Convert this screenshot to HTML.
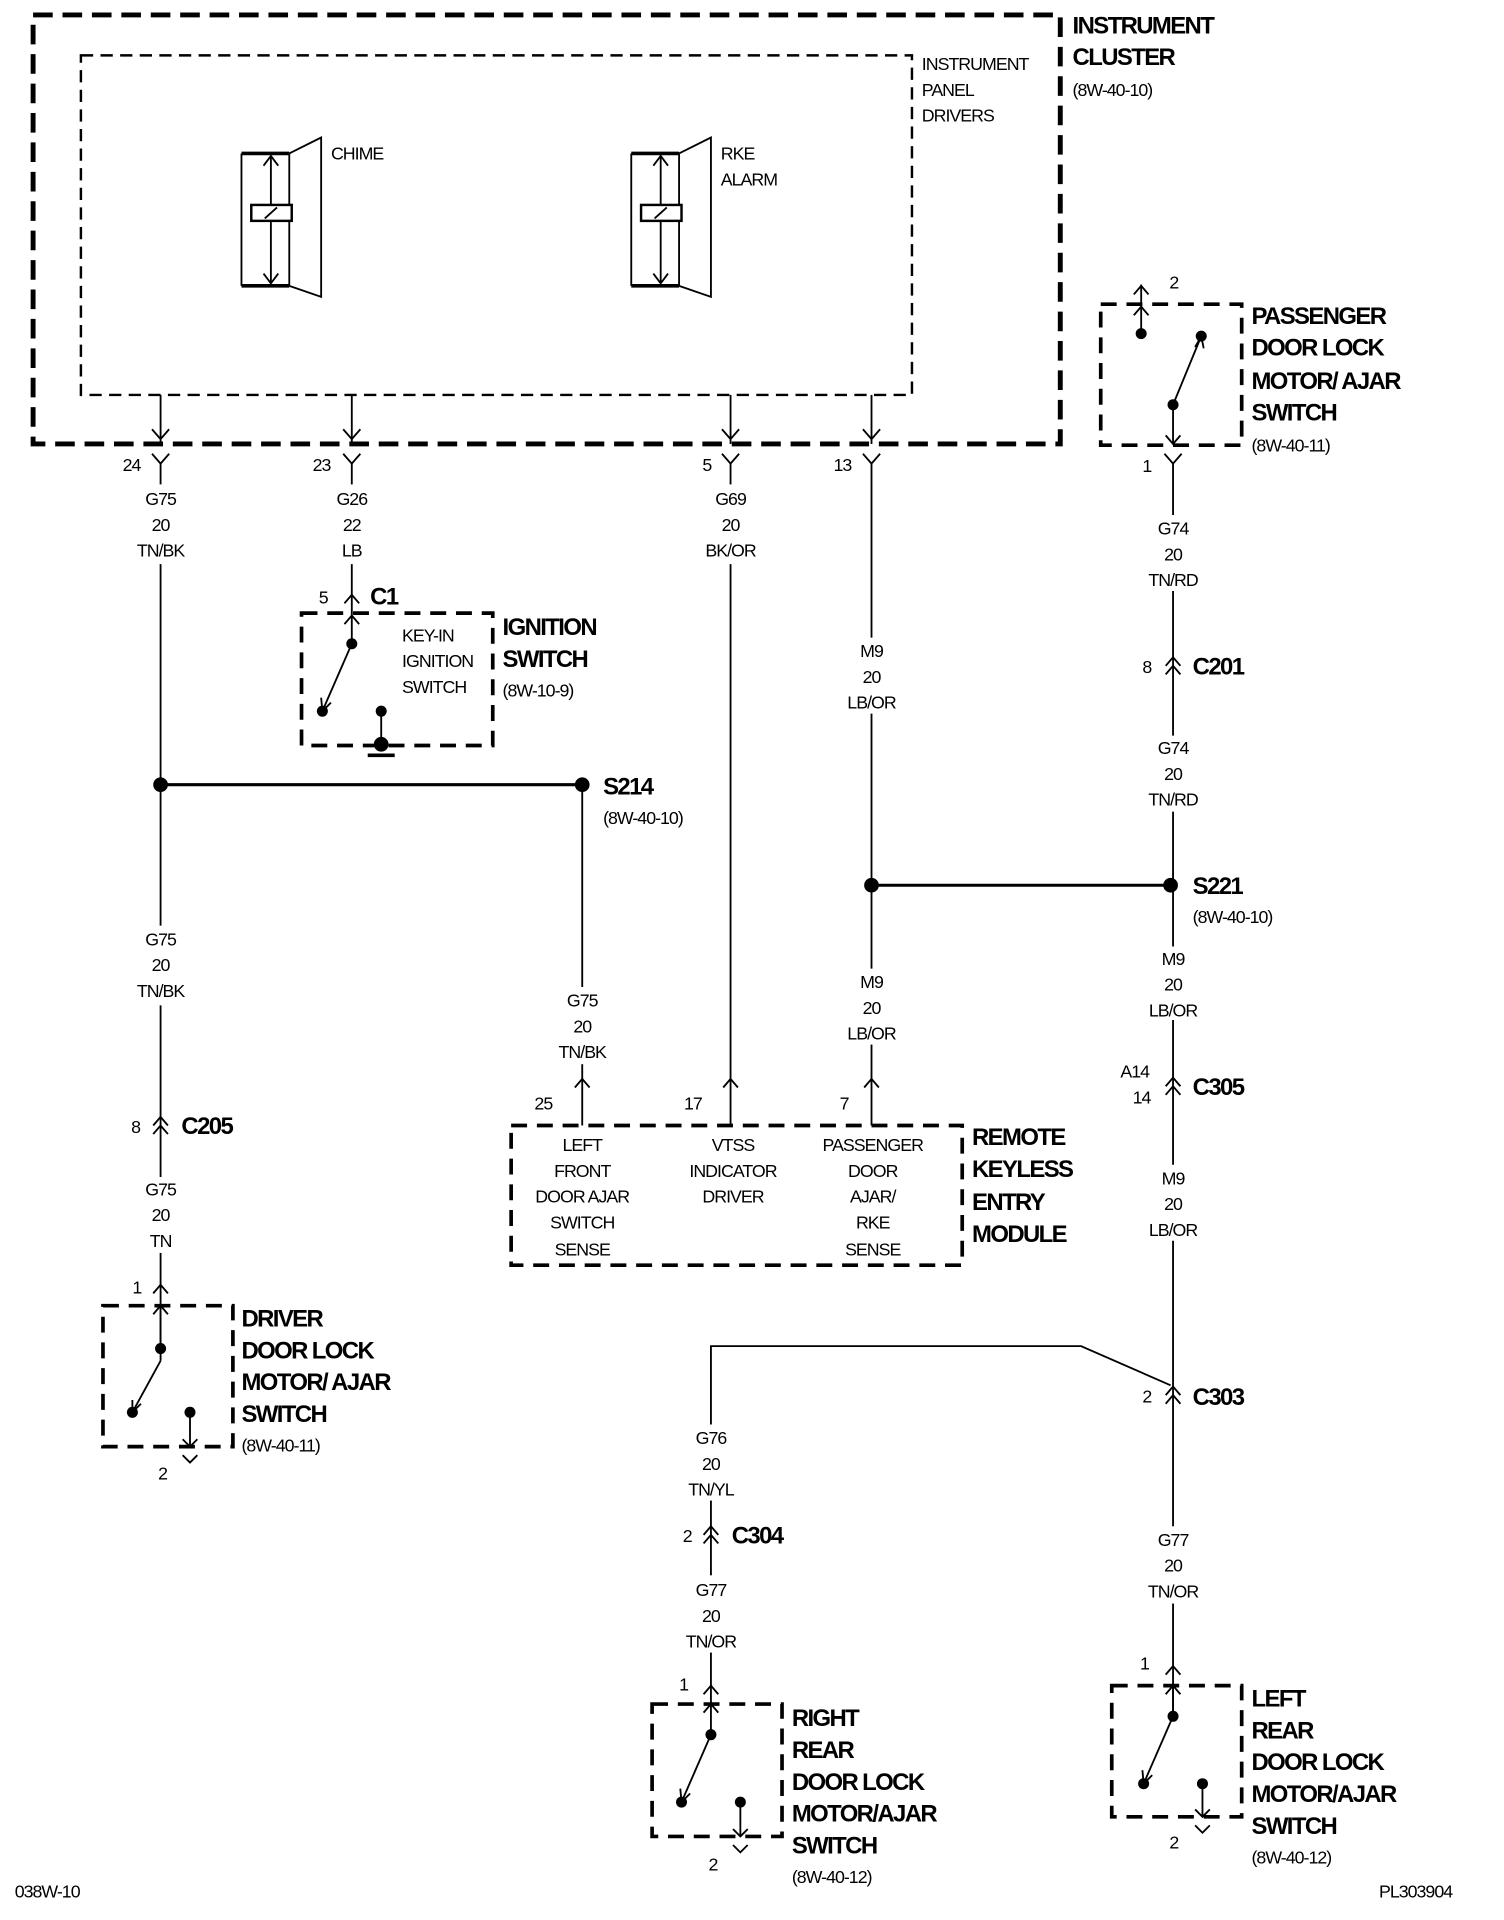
<!DOCTYPE html>
<html><head><meta charset="utf-8"><style>
html,body{margin:0;padding:0;background:#fff;width:1504px;height:1920px;overflow:hidden}
svg{display:block}
text{font-family:"Liberation Sans",sans-serif;fill:#000}
.s{font-size:14.5px;letter-spacing:-0.8px}
.b{font-size:19.5px;font-weight:bold;letter-spacing:-1.3px}
.c{text-anchor:middle}
</style></head><body>
<svg width="1504" height="1920" viewBox="0 0 1227 1566" xmlns="http://www.w3.org/2000/svg">
<g fill="none" stroke="#000">
<rect x="27" y="12" width="838" height="350" stroke-width="4" stroke-dasharray="16,8"/>
<rect x="66" y="45" width="678" height="277" stroke-width="2" stroke-dasharray="10,6"/>
<g stroke-width="1.5">
<line x1="197" y1="125" x2="236" y2="125" stroke-width="3"/>
<line x1="197" y1="233" x2="236" y2="233" stroke-width="3"/>
<line x1="197" y1="125" x2="197" y2="233"/><line x1="236" y1="125" x2="236" y2="233"/>
<polyline points="236,125 262,112 262,242 236,233"/>
<line x1="221" y1="127" x2="221" y2="231"/>
<polyline points="215,135 221,127 227,135"/><polyline points="215,223 221,231 227,223"/>
<rect x="205" y="167" width="33" height="13" fill="#fff" stroke-width="2"/>
<line x1="216" y1="178" x2="226" y2="169"/>
</g>
<g stroke-width="1.5" transform="translate(318,0)">
<line x1="197" y1="125" x2="236" y2="125" stroke-width="3"/>
<line x1="197" y1="233" x2="236" y2="233" stroke-width="3"/>
<line x1="197" y1="125" x2="197" y2="233"/><line x1="236" y1="125" x2="236" y2="233"/>
<polyline points="236,125 262,112 262,242 236,233"/>
<line x1="221" y1="127" x2="221" y2="231"/>
<polyline points="215,135 221,127 227,135"/><polyline points="215,223 221,231 227,223"/>
<rect x="205" y="167" width="33" height="13" fill="#fff" stroke-width="2"/>
<line x1="216" y1="178" x2="226" y2="169"/>
</g>
<g stroke-width="1.5">
<line x1="131" y1="322" x2="131" y2="362"/><polyline points="124,350 131,358 138,350"/>
<line x1="287" y1="322" x2="287" y2="362"/><polyline points="280,350 287,358 294,350"/>
<line x1="596" y1="322" x2="596" y2="362"/><polyline points="589,350 596,358 603,350"/>
<line x1="711" y1="322" x2="711" y2="362"/><polyline points="704,350 711,358 718,350"/>
<polyline points="124,370 131,378 138,370"/><polyline points="280,370 287,378 294,370"/>
<polyline points="589,370 596,378 603,370"/><polyline points="704,370 711,378 718,370"/>
<line x1="131" y1="378" x2="131" y2="395"/>
<line x1="131" y1="460" x2="131" y2="755"/>
<line x1="131" y1="820" x2="131" y2="960"/>
<polyline points="125,918 131,911 137,918"/><polyline points="125,925 131,918 137,925"/>
<line x1="131" y1="1022" x2="131" y2="1110"/>
<polyline points="125,1055 131,1048 137,1055"/>
<polyline points="125,1072 131,1065 137,1072"/>
<line x1="131" y1="1110" x2="108" y2="1152"/>
<polyline points="108,1142 108,1152 115,1145"/>
<line x1="155" y1="1152" x2="155" y2="1180"/>
<polyline points="149,1174 155,1180 161,1174"/>
<polyline points="149,1187 155,1193 161,1187"/>
<line x1="287" y1="378" x2="287" y2="395"/>
<line x1="287" y1="460" x2="287" y2="525"/>
<polyline points="281,492 287,485 293,492"/>
<polyline points="281,509 287,502 293,509"/>
<line x1="287" y1="525" x2="263" y2="580"/>
<polyline points="262,569 263,580 270,573"/>
<line x1="311" y1="580" x2="311" y2="607"/>
<line x1="300" y1="616" x2="322" y2="616" stroke-width="3"/>
<line x1="131" y1="640" x2="475" y2="640" stroke-width="2.5"/>
<line x1="475" y1="640" x2="475" y2="805"/>
<line x1="475" y1="868" x2="475" y2="918"/>
<polyline points="469,887 475,880 481,887"/>
<line x1="596" y1="378" x2="596" y2="395"/>
<line x1="596" y1="460" x2="596" y2="918"/>
<polyline points="590,887 596,880 602,887"/>
<line x1="711" y1="378" x2="711" y2="520"/>
<line x1="711" y1="582" x2="711" y2="790"/>
<line x1="711" y1="722" x2="955" y2="722" stroke-width="2.5"/>
<line x1="711" y1="852" x2="711" y2="918"/>
<polyline points="705,887 711,880 717,887"/>
<line x1="931" y1="232" x2="931" y2="272"/>
<polyline points="925,240 931,233 937,240"/>
<polyline points="925,257 931,250 937,257"/>
<line x1="957" y1="330" x2="980" y2="274"/>
<polyline points="975,283 980,274 982,284"/>
<line x1="957" y1="330" x2="957" y2="362"/>
<polyline points="951,355 957,362 963,355"/>
<polyline points="950,370 957,378 964,370"/>
<line x1="957" y1="378" x2="957" y2="420"/>
<line x1="957" y1="482" x2="957" y2="600"/>
<polyline points="951,543 957,536 963,543"/><polyline points="951,550 957,543 963,550"/>
<line x1="957" y1="662" x2="957" y2="772"/>
<line x1="957" y1="832" x2="957" y2="950"/>
<polyline points="951,886 957,879 963,886"/><polyline points="951,893 957,886 963,893"/>
<line x1="957" y1="1012" x2="957" y2="1245"/>
<polyline points="951,1138 957,1131 963,1138"/><polyline points="951,1145 957,1138 963,1145"/>
<polyline points="955,1130 882,1098 580,1098 580,1162"/>
<line x1="580" y1="1224" x2="580" y2="1285"/>
<polyline points="574,1252 580,1245 586,1252"/><polyline points="574,1259 580,1252 586,1259"/>
<line x1="580" y1="1348" x2="580" y2="1415"/>
<polyline points="574,1382 580,1375 586,1382"/>
<polyline points="574,1397 580,1390 586,1397"/>
<line x1="580" y1="1415" x2="556" y2="1470"/>
<polyline points="555,1459 556,1470 563,1463"/>
<line x1="604" y1="1470" x2="604" y2="1498"/>
<polyline points="598,1492 604,1498 610,1492"/>
<polyline points="598,1505 604,1511 610,1505"/>
<line x1="957" y1="1308" x2="957" y2="1400"/>
<polyline points="951,1366 957,1359 963,1366"/>
<polyline points="951,1382 957,1375 963,1382"/>
<line x1="957" y1="1400" x2="933" y2="1455"/>
<polyline points="932,1444 933,1455 940,1448"/>
<line x1="981" y1="1455" x2="981" y2="1482"/>
<polyline points="975,1476 981,1482 987,1476"/>
<polyline points="975,1489 981,1495 987,1489"/>
</g>
<g stroke-width="3" stroke-dasharray="13,8">
<rect x="898" y="248" width="115" height="115"/>
<rect x="246" y="500" width="156" height="108"/>
<rect x="417" y="918" width="368" height="114"/>
<rect x="84" y="1065" width="106" height="115"/>
<rect x="532" y="1390" width="106" height="108"/>
<rect x="907" y="1375" width="106" height="107"/>
</g>
</g>
<g fill="#000">
<circle cx="131" cy="640" r="6"/><circle cx="475" cy="640" r="6"/>
<circle cx="711" cy="722" r="6"/><circle cx="955" cy="722" r="6"/>
<circle cx="287" cy="525" r="4.5"/><circle cx="263" cy="580" r="4.5"/><circle cx="311" cy="580" r="4.5"/><circle cx="311" cy="607" r="6"/>
<circle cx="931" cy="272" r="4.5"/><circle cx="980" cy="274" r="4.5"/><circle cx="957" cy="330" r="4.5"/>
<circle cx="131" cy="1100" r="4.5"/><circle cx="108" cy="1152" r="4.5"/><circle cx="155" cy="1152" r="4.5"/>
<circle cx="580" cy="1415" r="4.5"/><circle cx="556" cy="1470" r="4.5"/><circle cx="604" cy="1470" r="4.5"/>
<circle cx="957" cy="1400" r="4.5"/><circle cx="933" cy="1455" r="4.5"/><circle cx="981" cy="1455" r="4.5"/>
</g>
<line x1="131" y1="1065" x2="131" y2="1100" stroke="#000" stroke-width="1.5"/>
<line x1="957" y1="1375" x2="957" y2="1400" stroke="#000" stroke-width="1.5"/>

<text class="b" x="875" y="27">INSTRUMENT</text>
<text class="b" x="875" y="53">CLUSTER</text>
<text class="s" x="875" y="78">(8W-40-10)</text>
<text class="s" x="752" y="57">INSTRUMENT</text>
<text class="s" x="752" y="78">PANEL</text>
<text class="s" x="752" y="99">DRIVERS</text>
<text class="s" x="270" y="130">CHIME</text>
<text class="s" x="588" y="130">RKE</text>
<text class="s" x="588" y="151">ALARM</text>

<text class="s" x="100" y="384">24</text><text class="s" x="255" y="384">23</text>
<text class="s" x="573" y="384">5</text><text class="s" x="680" y="384">13</text>
<g class="s c">
<text x="131" y="412">G75</text><text x="131" y="433">20</text><text x="131" y="454">TN/BK</text>
<text x="287" y="412">G26</text><text x="287" y="433">22</text><text x="287" y="454">LB</text>
<text x="596" y="412">G69</text><text x="596" y="433">20</text><text x="596" y="454">BK/OR</text>
<text x="711" y="536">M9</text><text x="711" y="557">20</text><text x="711" y="578">LB/OR</text>
<text x="131" y="771">G75</text><text x="131" y="792">20</text><text x="131" y="813">TN/BK</text>
<text x="475" y="821">G75</text><text x="475" y="842">20</text><text x="475" y="863">TN/BK</text>
<text x="711" y="806">M9</text><text x="711" y="827">20</text><text x="711" y="848">LB/OR</text>
<text x="131" y="975">G75</text><text x="131" y="996">20</text><text x="131" y="1017">TN</text>
<text x="957" y="436">G74</text><text x="957" y="457">20</text><text x="957" y="478">TN/RD</text>
<text x="957" y="615">G74</text><text x="957" y="636">20</text><text x="957" y="657">TN/RD</text>
<text x="957" y="787">M9</text><text x="957" y="808">20</text><text x="957" y="829">LB/OR</text>
<text x="957" y="966">M9</text><text x="957" y="987">20</text><text x="957" y="1008">LB/OR</text>
<text x="580" y="1178">G76</text><text x="580" y="1199">20</text><text x="580" y="1220">TN/YL</text>
<text x="580" y="1302">G77</text><text x="580" y="1323">20</text><text x="580" y="1344">TN/OR</text>
<text x="957" y="1261">G77</text><text x="957" y="1282">20</text><text x="957" y="1303">TN/OR</text>
<text x="475" y="939">LEFT</text><text x="475" y="960">FRONT</text><text x="475" y="981">DOOR AJAR</text><text x="475" y="1002">SWITCH</text><text x="475" y="1024">SENSE</text>
<text x="598" y="939">VTSS</text><text x="598" y="960">INDICATOR</text><text x="598" y="981">DRIVER</text>
<text x="712" y="939">PASSENGER</text><text x="712" y="960">DOOR</text><text x="712" y="981">AJAR/</text><text x="712" y="1002">RKE</text><text x="712" y="1024">SENSE</text>
</g>
<text class="s" x="260" y="492">5</text><text class="b" x="302" y="493">C1</text>
<text class="s" x="328" y="523">KEY-IN</text><text class="s" x="328" y="544">IGNITION</text><text class="s" x="328" y="565">SWITCH</text>
<text class="b" x="410" y="518">IGNITION</text><text class="b" x="410" y="544">SWITCH</text><text class="s" x="410" y="568">(8W-10-9)</text>
<text class="b" x="492" y="648">S214</text><text class="s" x="492" y="672">(8W-40-10)</text>
<text class="s" x="436" y="905">25</text><text class="s" x="558" y="905">17</text><text class="s" x="685" y="905">7</text>
<text class="b" x="793" y="934">REMOTE</text><text class="b" x="793" y="960">KEYLESS</text><text class="b" x="793" y="987">ENTRY</text><text class="b" x="793" y="1013">MODULE</text>
<text class="s" x="107" y="924">8</text><text class="b" x="148" y="925">C205</text>
<text class="s" x="108" y="1055">1</text>
<text class="b" x="197" y="1082">DRIVER</text><text class="b" x="197" y="1108">DOOR LOCK</text><text class="b" x="197" y="1134">MOTOR/ AJAR</text><text class="b" x="197" y="1160">SWITCH</text><text class="s" x="197" y="1184">(8W-40-11)</text>
<text class="s" x="129" y="1207">2</text>
<text class="s" x="954" y="235">2</text><text class="s" x="932" y="385">1</text>
<text class="b" x="1021" y="264">PASSENGER</text><text class="b" x="1021" y="290">DOOR LOCK</text><text class="b" x="1021" y="317">MOTOR/ AJAR</text><text class="b" x="1021" y="343">SWITCH</text><text class="s" x="1021" y="368">(8W-40-11)</text>
<text class="s" x="932" y="549">8</text><text class="b" x="973" y="550">C201</text>
<text class="b" x="973" y="729">S221</text><text class="s" x="973" y="753">(8W-40-10)</text>
<text class="s" x="914" y="879">A14</text><text class="s" x="924" y="900">14</text><text class="b" x="973" y="893">C305</text>
<text class="s" x="932" y="1144">2</text><text class="b" x="973" y="1146">C303</text>
<text class="s" x="557" y="1258">2</text><text class="b" x="597" y="1259">C304</text>
<text class="s" x="554" y="1379">1</text><text class="s" x="578" y="1526">2</text>
<text class="b" x="646" y="1408">RIGHT</text><text class="b" x="646" y="1434">REAR</text><text class="b" x="646" y="1460">DOOR LOCK</text><text class="b" x="646" y="1486">MOTOR/AJAR</text><text class="b" x="646" y="1512">SWITCH</text><text class="s" x="646" y="1536">(8W-40-12)</text>
<text class="s" x="930" y="1362">1</text><text class="s" x="954" y="1508">2</text>
<text class="b" x="1021" y="1392">LEFT</text><text class="b" x="1021" y="1418">REAR</text><text class="b" x="1021" y="1444">DOOR LOCK</text><text class="b" x="1021" y="1470">MOTOR/AJAR</text><text class="b" x="1021" y="1496">SWITCH</text><text class="s" x="1021" y="1520">(8W-40-12)</text>
<text class="s" x="12" y="1548">038W-10</text><text class="s" x="1125" y="1548">PL303904</text>
</svg>
</body></html>
